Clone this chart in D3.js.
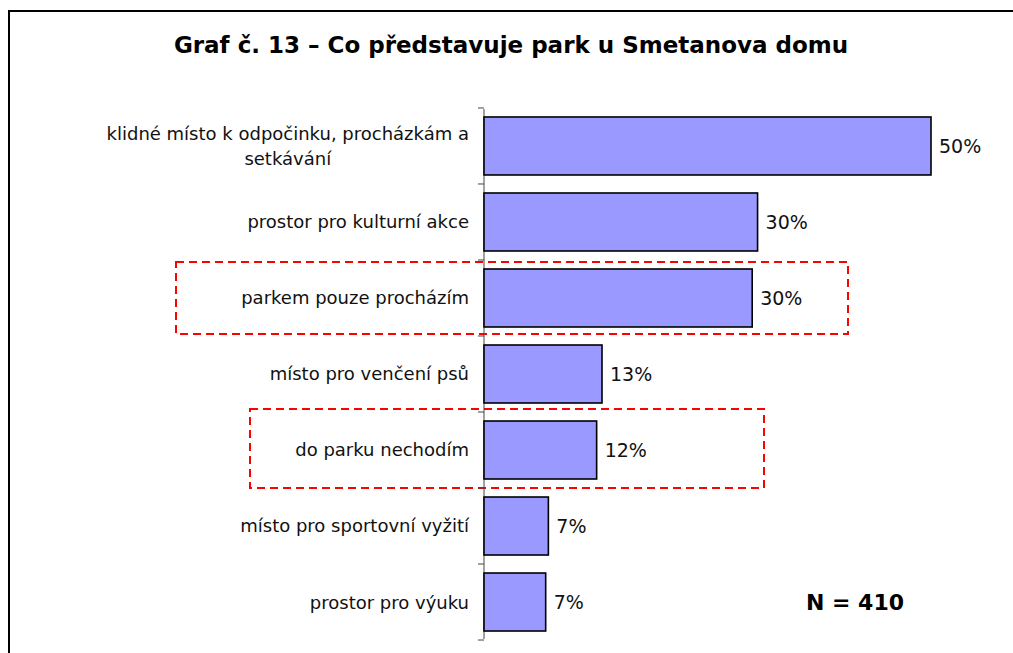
<!DOCTYPE html>
<html>
<head>
<meta charset="utf-8">
<script src="https://cdn.jsdelivr.net/npm/d3@7"></script>
<style>
  body { margin: 0; background: #fff; }
  text { font-family: "DejaVu Sans", Verdana, sans-serif; }
</style>
</head>
<body>
<svg id="chart"></svg>
<script>
var categories = [
  "klidné místo k odpočinku, procházkám a|setkávání",
  "prostor pro kulturní akce",
  "parkem pouze procházím",
  "místo pro venčení psů",
  "do parku nechodím",
  "místo pro sportovní vyžití",
  "prostor pro výuku"
]
var values = [50, 30.6, 30, 13.2, 12.6, 7.2, 6.9]
var valueLabels = ["50%", "30%", "30%", "13%", "12%", "7%", "7%"]
var highlighted = ["parkem pouze procházím", "do parku nechodím"]
var titleText = "Graf č. 13 – Co představuje park u Smetanova domu"
var noteText = "N = 410"

var width = 1013, height = 653

var svg = d3.select("svg#chart")
            .attr("width", width)
            .attr("height", height)

// frame of the original picture (runs off right and bottom)
svg.append("rect")
    .attr("x", 9)
    .attr("y", 11)
    .attr("width", width + 20)
    .attr("height", height + 20)
    .attr("fill", "none")
    .attr("stroke", "#000")
    .attr("stroke-width", 2)

svg.append("text")
    .attr("x", 511)
    .attr("y", 53)
    .attr("text-anchor", "middle")
    .attr("font-size", "23px")
    .attr("font-weight", "bold")
    .text(titleText)

var yScale = d3.scaleBand()
    .domain(categories)
    .range([109, 639])
    .paddingInner(0.237)
    .paddingOuter(0.105)

var xScale = d3.scaleLinear()
    .domain([0, 50])
    .range([484, 931])

var step = yScale.step()
var gap = step * yScale.paddingInner() / 2

// highlight boxes, edges given relative to the category band
var boxes = [
  {cat: highlighted[0], x0: 176, x1: 848, top: 2, bottom: -2},
  {cat: highlighted[1], x0: 250, x1: 764, top: -3, bottom: 0}
]
svg.selectAll("rect.box")
    .data(boxes)
    .enter()
    .append("rect")
    .attr("class", "box")
    .attr("x", function(d) { return d.x0 })
    .attr("width", function(d) { return d.x1 - d.x0 })
    .attr("y", function(d) { return yScale(d.cat) - gap + d.top })
    .attr("height", function(d) { return yScale.bandwidth() + 2 * gap - d.top + d.bottom })
    .attr("fill", "none")
    .attr("stroke", "#ff0000")
    .attr("stroke-width", 2)
    .attr("stroke-dasharray", "8,5")

// axis line and ticks between categories
svg.append("line")
    .attr("x1", xScale(0)).attr("x2", xScale(0))
    .attr("y1", yScale.range()[0]).attr("y2", yScale.range()[1])
    .attr("stroke", "#444")
    .attr("stroke-width", 1)

var tickYs = categories.map(function(c) { return yScale(c) - gap })
tickYs.push(yScale(categories[categories.length - 1]) + yScale.bandwidth() + gap)
svg.selectAll("line.tick")
    .data(tickYs)
    .enter()
    .append("line")
    .attr("class", "tick")
    .attr("x1", xScale(0) - 6).attr("x2", xScale(0))
    .attr("y1", function(d) { return d }).attr("y2", function(d) { return d })
    .attr("stroke", "#444")

svg.selectAll("rect.bar")
    .data(values)
    .enter()
    .append("rect")
    .attr("class", "bar")
    .attr("x", xScale(0))
    .attr("y", function(d, i) { return yScale(categories[i]) })
    .attr("width", function(d) { return xScale(d) - xScale(0) })
    .attr("height", yScale.bandwidth())
    .attr("fill", "#9999ff")
    .attr("stroke", "#000")
    .attr("stroke-width", 1.6)

svg.selectAll("text.value")
    .data(values)
    .enter()
    .append("text")
    .attr("class", "value")
    .attr("x", function(d) { return xScale(d) + 8 })
    .attr("y", function(d, i) { return yScale(categories[i]) + yScale.bandwidth() / 2 })
    .attr("dy", "0.36em")
    .attr("font-size", "19px")
    .attr("fill", "#111")
    .text(function(d, i) { return valueLabels[i] })

// category labels, multi-line ones centred as a block
var labelRight = 469, lineH = 25
categories.forEach(function(c) {
    var lines = c.split("|")
    var cy = yScale(c) + yScale.bandwidth() / 2
    var t = svg.append("text")
        .attr("font-size", "18px")
        .attr("fill", "#111")
    lines.forEach(function(l, j) {
        t.append("tspan")
            .attr("y", cy + (j - (lines.length - 1) / 2) * lineH)
            .attr("dy", "0.36em")
            .text(l)
    })
    if (lines.length == 1) {
        t.attr("text-anchor", "end").selectAll("tspan").attr("x", labelRight)
    } else {
        var w = d3.max(t.selectAll("tspan").nodes(), function(n) { return n.getComputedTextLength() })
        t.attr("text-anchor", "middle").selectAll("tspan").attr("x", labelRight - w / 2)
    }
})

svg.append("text")
    .attr("x", 855)
    .attr("y", 610)
    .attr("text-anchor", "middle")
    .attr("font-size", "22px")
    .attr("font-weight", "bold")
    .text(noteText)
</script>
</body>
</html>
